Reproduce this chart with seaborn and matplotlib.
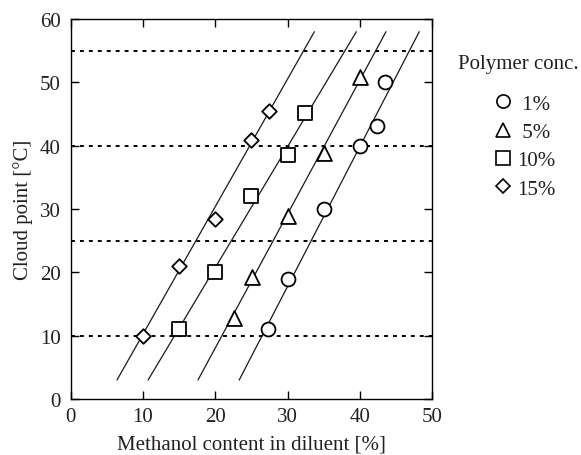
import matplotlib
matplotlib.use("Agg")
import matplotlib.pyplot as plt
import seaborn as sns
import pandas as pd
from matplotlib.lines import Line2D

# ---- data ----
conc_labels = ["1%", "5%", "10%", "15%"]
legend_labels = [" 1%", " 5%", "10%", "15%"]
legend_title = "Polymer conc."

x_1 = [27.3, 30.0, 35.0, 40.0, 42.4, 43.5]
y_1 = [11.1, 19.0, 30.0, 40.0, 43.1, 50.0]

x_5 = [22.6, 25.1, 30.0, 35.0, 40.0]
y_5 = [12.8, 19.3, 28.9, 38.8, 50.8]

x_10 = [15.0, 20.0, 25.0, 30.0, 32.4]
y_10 = [11.1, 20.1, 32.0, 38.6, 45.2]

x_15 = [10.0, 15.0, 20.0, 25.0, 27.4]
y_15 = [10.0, 21.0, 28.4, 40.9, 45.4]

# fitted lines: x positions at the two ends (y = 3 and y = 58)
fit_y = [3, 58]
fit_x_1 = [23.3, 48.2]
fit_x_5 = [17.6, 43.6]
fit_x_10 = [10.7, 39.5]
fit_x_15 = [6.4, 33.7]

ref_levels = [10, 25, 40, 55]
x_ticks = [0, 10, 20, 30, 40, 50]
y_ticks = [0, 10, 20, 30, 40, 50, 60]

# ---- build frames ----
pts = pd.DataFrame({
    "x": x_1 + x_5 + x_10 + x_15,
    "y": y_1 + y_5 + y_10 + y_15,
    "conc": ["1%"] * len(x_1) + ["5%"] * len(x_5) + ["10%"] * len(x_10) + ["15%"] * len(x_15),
})
fits = pd.DataFrame({
    "x": fit_x_1 + fit_x_5 + fit_x_10 + fit_x_15,
    "y": fit_y * 4,
    "conc": ["1%"] * 2 + ["5%"] * 2 + ["10%"] * 2 + ["15%"] * 2,
})

TXT = "#231f20"
FS = 15

sns.set_theme(style="ticks")
plt.rcParams["font.family"] = ["Liberation Serif", "DejaVu Serif"]

fig = plt.figure(figsize=(5.81, 4.56), dpi=100)
ax = fig.add_axes([0.1217, 0.1228, 0.6223, 0.8333])

for lvl in ref_levels:
    ax.axhline(lvl, color="black", lw=1.4, dashes=(2.0, 2.6), zorder=1)

sns.lineplot(data=fits, x="x", y="y", units="conc", estimator=None,
             color="#1a1a1a", lw=0.9, ax=ax, legend=False, sort=False, zorder=2)

markers = {"1%": "o", "5%": "^", "10%": "s", "15%": "D"}
sizes = {"1%": 100, "5%": 115, "10%": 90, "15%": 55}
for c in conc_labels:
    sub = pts[pts["conc"] == c]
    sns.scatterplot(data=sub, x="x", y="y", marker=markers[c], s=sizes[c],
                    facecolor="white", edgecolor="black", linewidth=1.3,
                    ax=ax, legend=False, zorder=3)

ax.set_xlim(0, 50)
ax.set_ylim(0, 60)
ax.set_xticks(x_ticks)
ax.set_yticks(y_ticks)
ax.tick_params(direction="in", top=True, right=True, length=6, width=1,
               labelsize=FS, colors="black", labelcolor=TXT)
ax.tick_params(axis="x", pad=6)
ax.tick_params(axis="y", pad=7)
for s in ax.spines.values():
    s.set_visible(True)
    s.set_linewidth(1.0)
    s.set_color("black")

ax.set_xlabel("Methanol content in diluent [%]", fontsize=FS, labelpad=6, color=TXT)
ax.set_ylabel("Cloud point [°C]", fontsize=FS, labelpad=5, color=TXT)

fig.text(518 / 581, 1 - 65 / 456, legend_title, ha="center", va="center",
         fontsize=FS, color=TXT)

handles = [Line2D([], [], ls="none", marker=markers[c], markersize=ms,
                  markerfacecolor="white", markeredgecolor="black", markeredgewidth=1.2)
           for c, ms in zip(conc_labels, [9.5, 10, 9.5, 7.5])]
leg = fig.legend(handles, legend_labels,
                 loc="upper left", bbox_to_anchor=(494.5 / 581, 1 - 95 / 456),
                 frameon=False, fontsize=FS, labelcolor=TXT,
                 handlelength=0.8, handletextpad=0.3, labelspacing=0.42,
                 borderpad=0, borderaxespad=0)

fig.savefig("out.png", dpi=100)
